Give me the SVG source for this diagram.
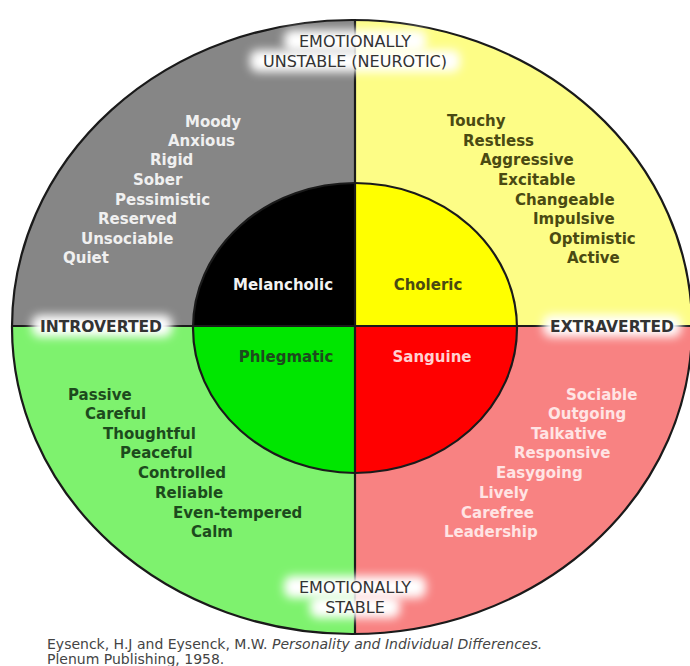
<svg xmlns="http://www.w3.org/2000/svg" width="690" height="666" viewBox="0 0 690 666">
<style>
  .item { font-family: "DejaVu Sans", "Liberation Sans", sans-serif; font-size: 15px; font-weight: bold; }
  .type { font-family: "DejaVu Sans", "Liberation Sans", sans-serif; font-size: 15px; font-weight: bold; text-anchor: middle; }
  .axis { font-family: "DejaVu Sans", "Liberation Sans", sans-serif; font-size: 16px; fill: #333; text-anchor: middle; }
  .axisb { font-family: "DejaVu Sans", "Liberation Sans", sans-serif; font-size: 15.5px; font-weight: bold; fill: #333; text-anchor: middle; }
  .cite { font-family: "DejaVu Sans", "Liberation Sans", sans-serif; font-size: 14px; fill: #444; }
  .gray { fill: #f0f0f0; }
  .yel { fill: #4a4a12; }
  .grn { fill: #1d4a1d; }
  .red { fill: #ffe4e4; }
  .glow { fill: #fff; filter: url(#blur); }
  .line { stroke: #1a1a1a; stroke-width: 2.2; fill: none; }
</style>
<defs>
  <clipPath id="outerClip"><ellipse cx="352" cy="327" rx="340" ry="307"/></clipPath>
  <clipPath id="innerClip"><ellipse cx="355" cy="328" rx="162" ry="145"/></clipPath>
  <filter id="blur" x="-30%" y="-60%" width="160%" height="220%"><feGaussianBlur stdDeviation="5"/></filter>
</defs>
<rect width="690" height="666" fill="#fff"/>

<g id="outer-quadrants" clip-path="url(#outerClip)">
  <rect x="0" y="0" width="355" height="326" fill="#868686"/>
  <rect x="355" y="0" width="335" height="326" fill="#fdfd86"/>
  <rect x="0" y="326" width="355" height="340" fill="#7ef26e"/>
  <rect x="355" y="326" width="335" height="340" fill="#f88282"/>
</g>

<g id="inner-quadrants" clip-path="url(#innerClip)">
  <rect x="180" y="170" width="175" height="156" fill="#000"/>
  <rect x="355" y="170" width="175" height="156" fill="#ffff00"/>
  <rect x="180" y="326" width="175" height="160" fill="#00e600"/>
  <rect x="355" y="326" width="175" height="160" fill="#ff0000"/>
</g>

<g id="connectors">
  <line class="line" x1="355" y1="19" x2="355" y2="634"/>
  <line class="line" x1="12" y1="326" x2="690" y2="326"/>
  <ellipse class="line" cx="355" cy="328" rx="162" ry="145"/>
  <ellipse class="line" cx="352" cy="327" rx="340" ry="307" stroke-width="2.5"/>
</g>

<g id="melancholic">
  <text class="type" x="283" y="290" fill="#f2f2f2">Melancholic</text>
  <g class="item gray">
    <text x="185" y="127">Moody</text>
    <text x="168" y="146">Anxious</text>
    <text x="150" y="165">Rigid</text>
    <text x="133" y="185">Sober</text>
    <text x="115" y="205">Pessimistic</text>
    <text x="98" y="224">Reserved</text>
    <text x="81" y="244">Unsociable</text>
    <text x="63" y="263">Quiet</text>
  </g>
</g>

<g id="choleric">
  <text class="type" x="428" y="290" fill="#4a4a12">Choleric</text>
  <g class="item yel">
    <text x="447" y="126">Touchy</text>
    <text x="463" y="146">Restless</text>
    <text x="480" y="165">Aggressive</text>
    <text x="498" y="185">Excitable</text>
    <text x="515" y="205">Changeable</text>
    <text x="533" y="224">Impulsive</text>
    <text x="549" y="244">Optimistic</text>
    <text x="567" y="263">Active</text>
  </g>
</g>

<g id="phlegmatic">
  <text class="type" x="286" y="362" fill="#1d4a1d">Phlegmatic</text>
  <g class="item grn">
    <text x="68" y="400">Passive</text>
    <text x="85" y="419">Careful</text>
    <text x="103" y="439">Thoughtful</text>
    <text x="120" y="458">Peaceful</text>
    <text x="138" y="478">Controlled</text>
    <text x="155" y="498">Reliable</text>
    <text x="173" y="518">Even-tempered</text>
    <text x="191" y="537">Calm</text>
  </g>
</g>

<g id="sanguine">
  <text class="type" x="432" y="362" fill="#ffd0d0">Sanguine</text>
  <g class="item red">
    <text x="566" y="400">Sociable</text>
    <text x="548" y="419">Outgoing</text>
    <text x="531" y="439">Talkative</text>
    <text x="514" y="458">Responsive</text>
    <text x="496" y="478">Easygoing</text>
    <text x="479" y="498">Lively</text>
    <text x="461" y="518">Carefree</text>
    <text x="444" y="537">Leadership</text>
  </g>
</g>

<g id="label-unstable">
  <rect class="glow" x="284" y="30" width="142" height="22" rx="8"/>
  <rect class="glow" x="250" y="50" width="210" height="22" rx="8"/>
  <text class="axis" x="355" y="47">EMOTIONALLY</text>
  <text class="axis" x="355" y="67">UNSTABLE (NEUROTIC)</text>
</g>

<g id="label-introverted">
  <rect class="glow" x="32" y="315" width="140" height="22" rx="8"/>
  <text class="axisb" x="101" y="332">INTROVERTED</text>
</g>

<g id="label-extraverted">
  <rect class="glow" x="543" y="315" width="138" height="22" rx="8"/>
  <text class="axisb" x="612" y="332">EXTRAVERTED</text>
</g>

<g id="label-stable">
  <rect class="glow" x="284" y="576" width="142" height="22" rx="8"/>
  <rect class="glow" x="310" y="596" width="90" height="22" rx="8"/>
  <text class="axis" x="355" y="593">EMOTIONALLY</text>
  <text class="axis" x="355" y="613">STABLE</text>
</g>

<g id="citation">
  <text class="cite" x="47" y="649">Eysenck, H.J and Eysenck, M.W. <tspan font-style="italic">Personality and Individual Differences.</tspan></text>
  <text class="cite" x="47" y="664">Plenum Publishing, 1958.</text>
</g>
</svg>
